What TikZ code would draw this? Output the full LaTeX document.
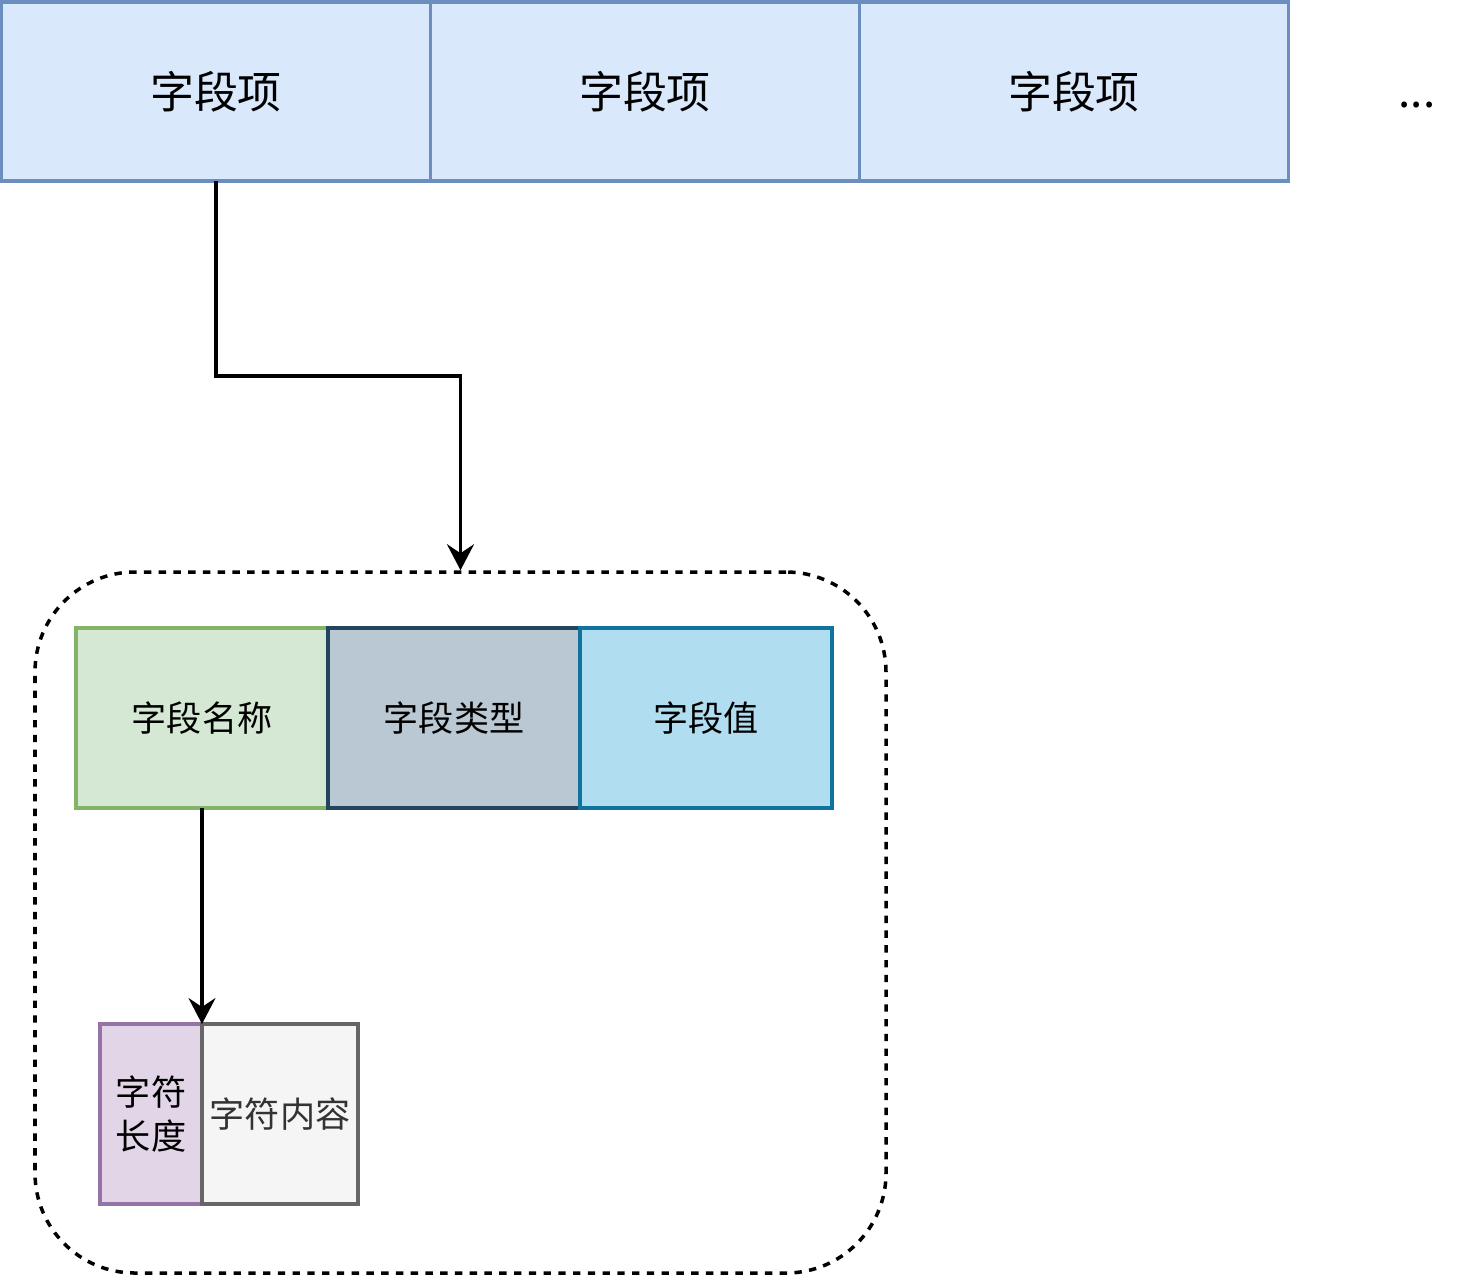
\documentclass[tikz,border=0pt]{standalone}
\usepackage{fontspec}
\setmainfont{Noto Sans CJK SC}
\usetikzlibrary{positioning, arrows.meta}
\definecolor{itemfill}{HTML}{DAE8FC}
\definecolor{itemdraw}{HTML}{6C8EBF}
\definecolor{namefill}{HTML}{D5E8D4}
\definecolor{namedraw}{HTML}{82B366}
\definecolor{typefill}{HTML}{BAC8D3}
\definecolor{typedraw}{HTML}{23445D}
\definecolor{valfill}{HTML}{B1DDF0}
\definecolor{valdraw}{HTML}{10739E}
\definecolor{lenfill}{HTML}{E1D5E7}
\definecolor{lendraw}{HTML}{9673A6}
\definecolor{txtfill}{HTML}{F5F5F5}
\definecolor{txtdraw}{HTML}{666666}
\definecolor{txtfont}{HTML}{333333}
\tikzstyle{cell} = [rectangle, inner sep=0pt, outer sep=0pt, line width=1pt, text centered, font=\fontsize{10}{12.5}\selectfont]
\tikzstyle{item} = [cell, minimum width=4.29cm, minimum height=1.79cm, fill=itemfill, draw=itemdraw, font=\fontsize{12.5}{15}\selectfont]
\tikzstyle{part} = [cell, minimum width=2.52cm, minimum height=1.80cm]
\tikzstyle{arrow} = [line width=1pt, -{Stealth[length=2.6mm, width=2.7mm, inset=0.9mm]}]

\begin{document}
\begin{tikzpicture}
        \useasboundingbox (0,0) rectangle (14.64,-12.75);
        % row of field items
        \node (f1) [item] at (2.16,-0.915) {字段项};
        \node (f2) [item, right=0pt of f1] {字段项};
        \node (f3) [item, right=0pt of f2] {字段项};
        \node (more) [font=\fontsize{12.5}{15}\selectfont] at (14.17,-1.05) {...};

        % one field item, expanded
        \node (box) [rectangle, draw, dash pattern=on 2.1pt off 2.1pt, line width=1pt, rounded corners=1cm, minimum width=8.51cm, minimum height=7.01cm] at (4.605,-9.225) {};
        \node (fname) [part, fill=namefill, draw=namedraw] at (2.02,-7.18) {字段名称};
        \node (ftype) [part, fill=typefill, draw=typedraw, right=0pt of fname] {字段类型};
        \node (fval) [part, fill=valfill, draw=valdraw, right=0pt of ftype] {字段值};

        \node (clen) [cell, minimum width=1.02cm, minimum height=1.80cm, fill=lenfill, draw=lendraw, align=center, font=\fontsize{10}{12.5}\selectfont] at (1.51,-11.14) {字符\\长度};
        \node (ctext) [cell, minimum width=1.56cm, minimum height=1.80cm, fill=txtfill, draw=txtdraw, text=txtfont, right=0pt of clen] {字符内容};

        \draw [arrow] (f1.south) -- ++(0,-1.95) -| (box.north);
        \draw [arrow] (fname.south) -- (clen.north east);
\end{tikzpicture}
\end{document}
